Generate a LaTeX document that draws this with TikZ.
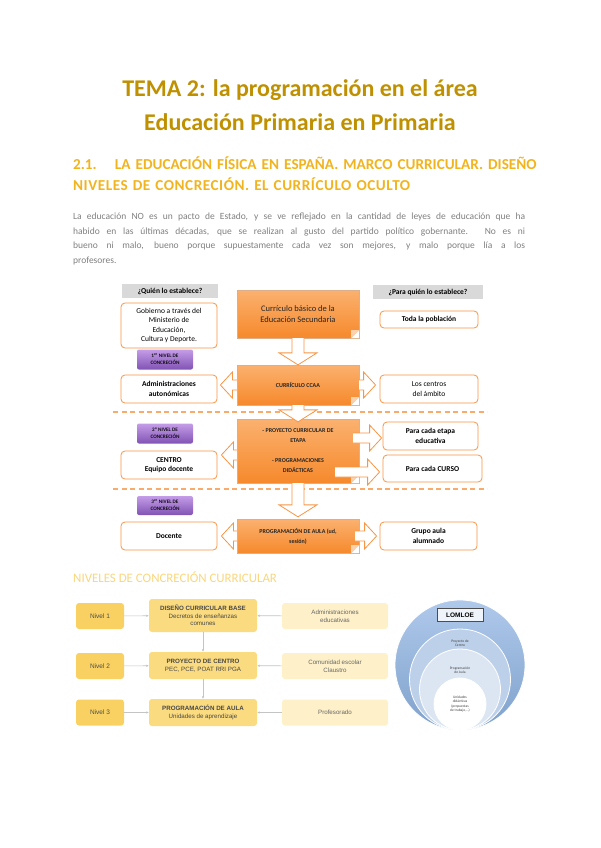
\documentclass[tikz,border=0pt]{standalone}
\usepackage{fontspec}
\setmainfont{Carlito}
\newfontfamily\arialf{Liberation Sans}
\usetikzlibrary{positioning,calc,arrows.meta}

\definecolor{titlegold}{HTML}{BF9000}
\definecolor{headgold}{HTML}{F2B41E}
\definecolor{bodygray}{HTML}{808080}
\definecolor{orline}{HTML}{F79646}
\definecolor{ortop}{HTML}{FBB16F}
\definecolor{orbot}{HTML}{F6892C}
\definecolor{orfoldc}{HTML}{FCD2AE}
\definecolor{purtop}{HTML}{C49DE8}
\definecolor{purbot}{HTML}{8053B3}
\definecolor{qgray}{HTML}{D9D9D9}
\definecolor{lvlyel}{HTML}{F9D163}
\definecolor{midyel}{HTML}{FBDB80}
\definecolor{lightyel}{HTML}{FEF1C9}
\definecolor{subyel}{HTML}{F9D77E}
\definecolor{linkgray}{HTML}{C4C4C4}
\definecolor{blueout}{HTML}{8DB3E2}
\definecolor{bluetop}{HTML}{AFC9EB}
\definecolor{bluetwo}{HTML}{BDD0EA}
\definecolor{bluethree}{HTML}{DCE6F3}

% block arrows between named points
\newcommand{\blkdown}[2]{%
  \draw[blkarrow] let \p1=(#1), \p2=(#2) in
    (\x2-6pt,\y1) -- (\x2-6pt,\y2+12pt) -- (\x2-19pt,\y2+12pt) -- (\x2,\y2)
    -- (\x2+19pt,\y2+12pt) -- (\x2+6pt,\y2+12pt) -- (\x2+6pt,\y1);}
\newcommand{\blkside}[3]{%
  \draw[blkarrow] let \p1=(#1), \p2=(#2) in
    (\x1,\y1+5pt) -- ({\x2-(#3)*12pt},\y1+5pt) -- ({\x2-(#3)*12pt},\y1+13pt) -- (\x2,\y1)
    -- ({\x2-(#3)*12pt},\y1-13pt) -- ({\x2-(#3)*12pt},\y1-5pt) -- (\x1,\y1-5pt);}

\begin{document}
\begin{tikzpicture}[x=1pt,y=-1pt,
    wbox/.style={draw=orline, line width=0.8pt, rounded corners=4pt, fill=white,
      minimum width=96pt, minimum height=28pt, inner sep=1pt, align=center,
      font=\fontsize{7.5}{9.5}\selectfont},
    obox/.style={top color=ortop, bottom color=orbot, draw=orline!80!black!60, line width=0.3pt,
      minimum width=122pt, inner sep=2pt, align=center, text=black!85},
    qbox/.style={fill=qgray, minimum height=14pt, inner sep=1pt,
      font=\fontsize{7.5}{9}\selectfont\bfseries},
    badge/.style={top color=purtop, bottom color=purbot, rounded corners=2pt,
      minimum width=56pt, minimum height=20pt, inner sep=1pt, align=center,
      font=\fontsize{5.2}{6.8}\selectfont\bfseries, text=black!85!purbot},
    blkarrow/.style={draw=orline, fill=white, line width=0.8pt, line join=miter},
    cutline/.style={draw=orline!80, line width=1.1pt, dash pattern=on 5pt off 3.5pt},
    lvl/.style={fill=lvlyel, rounded corners=3pt, minimum width=48pt, minimum height=26pt,
      inner sep=1pt, font=\arialf\fontsize{6.5}{8}\selectfont, text=black!70},
    mid/.style={fill=midyel, rounded corners=3pt, minimum width=108pt, minimum height=27pt,
      inner sep=1pt, align=center, font=\arialf\fontsize{6.2}{7.6}\selectfont, text=black!72},
    who/.style={fill=lightyel, rounded corners=3pt, minimum width=106pt, minimum height=26pt,
      inner sep=1pt, align=center, font=\arialf\fontsize{6.2}{7.6}\selectfont, text=black!60},
    link/.style={draw=linkgray, line width=0.6pt, -{Latex[length=2.5pt,width=2.5pt]}},
    ring/.style={draw=white, line width=0.8pt},
    tiny/.style={font=\fontsize{3.6}{4.3}\selectfont, align=center, text=black!75}]

  \useasboundingbox[fill=white] (0,0) rectangle (600,848);

  % headings and text
  \node[anchor=base, font=\fontsize{24}{28}\selectfont\bfseries, text=titlegold] (title1) at (300,97)
    {TEMA 2: la programación en el área};
  \node[anchor=base, font=\fontsize{24}{28}\selectfont\bfseries, text=titlegold] (title2) at (300,131)
    {Educación Primaria en Primaria};
  \node[anchor=north west, inner sep=0pt, text width=452pt, align=left,
        font=\fontsize{15.2}{21}\selectfont\bfseries, text=headgold] (sect) at (73,157)
    {\hbox to 452pt{2.1.\hskip 1.2em plus 0.5em LA EDUCACIÓN FÍSICA EN ESPAÑA. MARCO CURRICULAR. DISEÑO}\\
     {\addfontfeatures{LetterSpace=3.5}NIVELES DE CONCRECIÓN. EL CURRÍCULO OCULTO}};
  \node[anchor=north west, inner sep=0pt, text width=452pt, align=justify,
        font=\fontsize{9.5}{14.6}\selectfont, text=bodygray] (intro) at (73,213)
    {La educación NO es un pacto de Estado, y se ve reflejado en la cantidad de leyes de educación que ha\linebreak
     habido en las últimas décadas, que se realizan al gusto del partido político gobernante. No es ni\linebreak
     bueno ni malo, bueno porque supuestamente cada vez son mejores, y malo porque lía a los\linebreak
     profesores.};

  % first diagram
  \node[qbox, minimum width=96pt] (quien) at (170,291) {¿Quién lo establece?};
  \node[qbox, minimum width=110pt] (para) at (428,292) {¿Para quién lo establece?};

  \node[obox, minimum height=48pt, font=\fontsize{8.5}{11}\selectfont] (cb) at (298,314)
    {Currículo básico de la\\Educación Secundaria};
  \node[obox, minimum height=40pt, font=\fontsize{6}{8}\selectfont\bfseries] (ccaa) at (298,385)
    {CURRÍCULO CCAA};
  \node[obox, minimum height=64pt, font=\fontsize{6}{10}\selectfont\bfseries] (pce) at (298,451)
    {- PROYECTO CURRICULAR DE\\ETAPA\\[10pt]- PROGRAMACIONES\\DIDÁCTICAS};
  \node[obox, minimum height=34pt, font=\fontsize{6}{10}\selectfont\bfseries] (aula) at (298,536)
    {PROGRAMACIÓN DE AULA (ud,\\sesión)};
  \foreach \n in {cb,ccaa,pce,aula}{
    \fill[white] (\n.south east) -- ++(-8,0) -- ++(8,-8) -- cycle;
    \fill[orfoldc] ($(\n.south east)+(-8,0)$) -- ++(8,-8) -- ++(-8,0) -- cycle;
  }

  \node[wbox, minimum height=45pt] (gob) at (169,325.5)
    {Gobierno a través del\\Ministerio de\\Educación,\\Cultura y Deporte.};
  \node[badge] (niv1) at (165,359.5) {1\textsuperscript{er} NIVEL DE\\CONCRECIÓN};
  \node[wbox, font=\fontsize{7.5}{9.5}\selectfont\bfseries] (admin) at (169,389)
    {Administraciones\\autonómicas};
  \node[wbox, minimum width=98pt, minimum height=17pt, font=\fontsize{7.5}{9.5}\selectfont\bfseries] (toda) at (429,319.5)
    {Toda la población};
  \node[wbox, minimum width=98pt] (centros) at (429,389) {Los centros\\del ámbito};

  \draw[cutline] (113,412) -- (487,412);

  \node[badge] (niv2) at (165,433.5) {2º NIVEL DE\\CONCRECIÓN};
  \node[wbox, font=\fontsize{7.5}{9.5}\selectfont\bfseries] (centro) at (169,465)
    {CENTRO\\Equipo docente};
  \node[wbox, minimum width=95pt, font=\fontsize{7.5}{9.5}\selectfont\bfseries] (etapa) at (430.5,436)
    {Para cada etapa\\educativa};
  \node[wbox, minimum width=99pt, minimum height=27pt, font=\fontsize{7.5}{9.5}\selectfont\bfseries] (curso) at (432.5,468.5)
    {Para cada CURSO};

  \draw[cutline] (113,489) -- (487,489);

  \node[badge, minimum height=19pt] (niv3) at (165,505.5) {3\textsuperscript{er} NIVEL DE\\CONCRECIÓN};
  \node[wbox, font=\fontsize{7.5}{9.5}\selectfont\bfseries] (docente) at (169,536) {Docente};
  \node[wbox, minimum width=97pt, font=\fontsize{7.5}{9.5}\selectfont\bfseries] (grupo) at (428.5,536)
    {Grupo aula\\alumnado};

  % block arrows
  \blkdown{cb.south}{ccaa.north}
  \blkdown{ccaa.south}{$(pce.north)+(0,3)$}
  \blkdown{pce.south}{$(aula.north)+(0,-2)$}
  \blkside{ccaa.west}{$(admin.east)+(3,0)$}{-1}
  \blkside{ccaa.east}{$(centros.west)+(-4,0)$}{1}
  \coordinate (pl) at ($(pce.west)+(0,4)$);
  \blkside{pl}{$(pl -| centro.east)+(4,0)$}{-1}
  \coordinate (pe) at ($(pce.east)+(-6,-13)$);
  \blkside{pe}{$(pe -| etapa.west)+(-1,0)$}{1}
  \coordinate (pc) at ($(pce.east)+(-24,21)$);
  \blkside{pc}{$(pc -| curso.west)+(-3,0)$}{1}
  \blkside{aula.west}{$(docente.east)+(4,0)$}{-1}
  \blkside{$(aula.east)+(-4,0)$}{$(grupo.west)+(-3,0)$}{1}

  % second diagram
  \node[anchor=base west, inner sep=0pt, font=\fontsize{12.9}{15}\selectfont, text=subyel] (niveles) at (73,582)
    {NIVELES DE CONCRECIÓN CURRICULAR};

  \node[lvl] (n1) at (100,616) {Nivel 1};
  \node[lvl] (n2) at (100,666) {Nivel 2};
  \node[lvl] (n3) at (100,712.5) {Nivel 3};
  \node[mid, minimum height=33pt] (d1) at (203,615.5)
    {\textbf{DISEÑO CURRICULAR BASE}\\Decretos de enseñanzas\\comunes};
  \node[mid] (d2) at (203,665.5) {\textbf{PROYECTO DE CENTRO}\\PEC, PCE, POAT RRI PGA};
  \node[mid] (d3) at (203,712.5) {\textbf{PROGRAMACIÓN DE AULA}\\Unidades de aprendizaje};
  \node[who] (a1) at (335,616) {Administraciones\\educativas};
  \node[who] (a2) at (335,666) {Comunidad escolar\\Claustro};
  \node[who] (a3) at (335,712.5) {Profesorado};

  \draw[link] (n1) -- (d1);
  \draw[link] (n2) -- (d2);
  \draw[link] (n3) -- (d3);
  \draw[link] (a1) -- (d1);
  \draw[link] (a2) -- (d2);
  \draw[link] (a3) -- (d3);
  \draw[link] (d1) -- (d2);
  \draw[link] (d2) -- (d3);

  % LOMLOE circles
  \shade[ring, top color=bluetop, bottom color=blueout!90!black] (460,665) circle[radius=65pt];
  \draw[ring, fill=bluetwo] (460,679.5) circle[radius=50.5pt];
  \draw[ring, fill=bluethree] (460,689.5) circle[radius=40.5pt];
  \draw[ring, fill=white] (460,704) circle[radius=26pt];
  \node[fill=white!80!bluetop, draw=black!70, line width=0.5pt, minimum width=46pt, minimum height=13pt,
        inner sep=1pt, font=\arialf\fontsize{6.5}{8}\selectfont\bfseries] (lomloe) at (460,615) {LOMLOE};
  \node[tiny] (pcentro) at (460,643) {Proyecto de\\Centro};
  \node[tiny] (paula) at (460,670) {Programación\\de Aula};
  \node[tiny] (udid) at (460,704) {Unidades\\didácticas\\(propuestas\\de trabajo,...)};

\end{tikzpicture}
\end{document}
